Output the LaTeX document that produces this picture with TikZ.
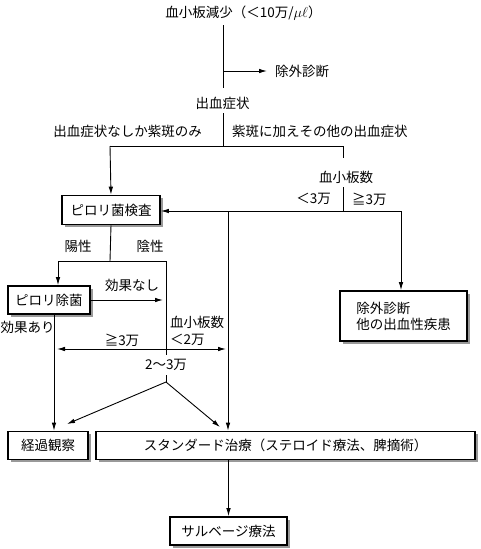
\documentclass[tikz,border=0pt]{standalone}
\usepackage{fontspec}
\setmainfont{Noto Sans CJK JP}
\usetikzlibrary{arrows.meta,shadows}
\begin{document}
\begin{tikzpicture}[x=1pt,y=-1pt,
  every node/.style={font=\fontsize{13.5}{16}\selectfont},
  txt/.style={inner sep=0pt},
  ln/.style={line width=0.9pt},
  arr/.style={line width=0.9pt,-{Latex[length=8pt,width=4.5pt]}},
  box/.style={draw,line width=1.6pt,fill=white,inner sep=0pt,
    drop shadow={shadow xshift=2.5pt,shadow yshift=-2.5pt,fill=black!40,opacity=1}}]
\useasboundingbox (0,0) rectangle (480,549);
% text nodes
\node[txt] (title) at (243.5,13) {血小板減少（＜10万/$\mu\ell$）};
\node[txt,anchor=west] (jogai1) at (275,71) {除外診断};
\node[txt] (shukketsu) at (222.5,103) {出血症状};
\node[txt,anchor=east] (lblL) at (202,131) {出血症状なしか紫斑のみ};
\node[txt,anchor=west] (lblR) at (232,131) {紫斑に加えその他の出血症状};
\node[txt] (plt1) at (346,177) {血小板数};
\node[txt,anchor=east] (lt3) at (331,199) {＜3万};
\node[txt,anchor=west] (ge3) at (352,199) {≧3万};
\node[txt] (yousei) at (78,246) {陽性};
\node[txt] (insei) at (150,246) {陰性};
\node[txt] (nashi) at (132,285) {効果なし};
\node[txt,anchor=west] (ari) at (0.5,327) {効果あり};
\node[txt] (plt2) at (197,322) {血小板数};
\node[txt,anchor=west] (lt2) at (170,340) {＜2万};
\node[txt] (ge3b) at (122,340) {≧3万};
\node[txt] (range) at (166,365) {2〜3万};
% boxes
\node[box,minimum width=98pt,minimum height=29pt] (kensa) at (111,210) {ピロリ菌検査};
\node[box,minimum width=82pt,minimum height=28pt] (jokin) at (49,300) {ピロリ除菌};
\node[box,minimum width=127pt,minimum height=50pt,align=left] (jogai2) at (403.5,316) {除外診断\\他の出血性疾患};
\node[box,minimum width=80pt,minimum height=28pt] (keika) at (48,445.5) {経過観察};
\node[box,minimum width=379pt,minimum height=28pt] (standard) at (285.5,445.5) {スタンダード治療（ステロイド療法、脾摘術）};
\node[box,minimum width=117pt,minimum height=28pt] (salvage) at (228.5,531) {サルベージ療法};
% coordinates
\coordinate (a1) at (223,25);
\coordinate (a2) at (223,88);
\coordinate (a3) at (223,71);
\coordinate (a4) at (267,71);
\coordinate (b1) at (223,113);
\coordinate (b2) at (223,146);
\coordinate (bL) at (110,146);
\coordinate (bR) at (343,146);
\coordinate (c1) at (343,158);
\coordinate (c2) at (343,187);
\coordinate (c3) at (343,211);
\coordinate (d1) at (401,211);
\coordinate (d2) at (228,211);
\coordinate (e0) at (110,261);
\coordinate (e1) at (58,261);
\coordinate (e2) at (166,261);
\coordinate (e3) at (166,355);
\coordinate (f1) at (163,300);
\coordinate (g1) at (54,314);
\coordinate (h1) at (57,349);
\coordinate (h2) at (226,349);
\coordinate (i1) at (166,375);
\coordinate (i2) at (166,382);
\coordinate (i3) at (67,424);
\coordinate (i4) at (220,427);
% connectors
\draw[ln] (a1) -- (a2);
\draw[arr] (a3) -- (a4);
\draw[ln] (b1) -- (b2);
\draw[ln] (bL) -- (bR);
\draw[arr] (bL) -- (kensa.north);
\draw[ln] (bR) -- (c1);
\draw[ln] (c2) -- (c3);
\draw[arr] (d1) -- (d1 -| kensa.east);
\draw[arr] (d2) -- (d2 |- standard.north);
\draw[arr] (d1) -- (d1 |- jogai2.north);
\draw[ln] (kensa.south) -- (e0);
\draw[ln] (e1) -- (e2);
\draw[arr] (e1) -- (e1 |- jokin.north);
\draw[ln] (e2) -- (e3);
\draw[arr] (jokin.east) -- (f1);
\draw[arr] (g1) -- (g1 |- keika.north);
\draw[line width=0.9pt,{Latex[length=8pt,width=4.5pt]}-{Latex[length=8pt,width=4.5pt]}] (h1) -- (h2);
\draw[ln] (i1) -- (i2);
\draw[arr] (i2) -- (i3);
\draw[arr] (i2) -- (i4);
\draw[arr] (standard.south -| salvage.north) -- (salvage.north);
\end{tikzpicture}
\end{document}
